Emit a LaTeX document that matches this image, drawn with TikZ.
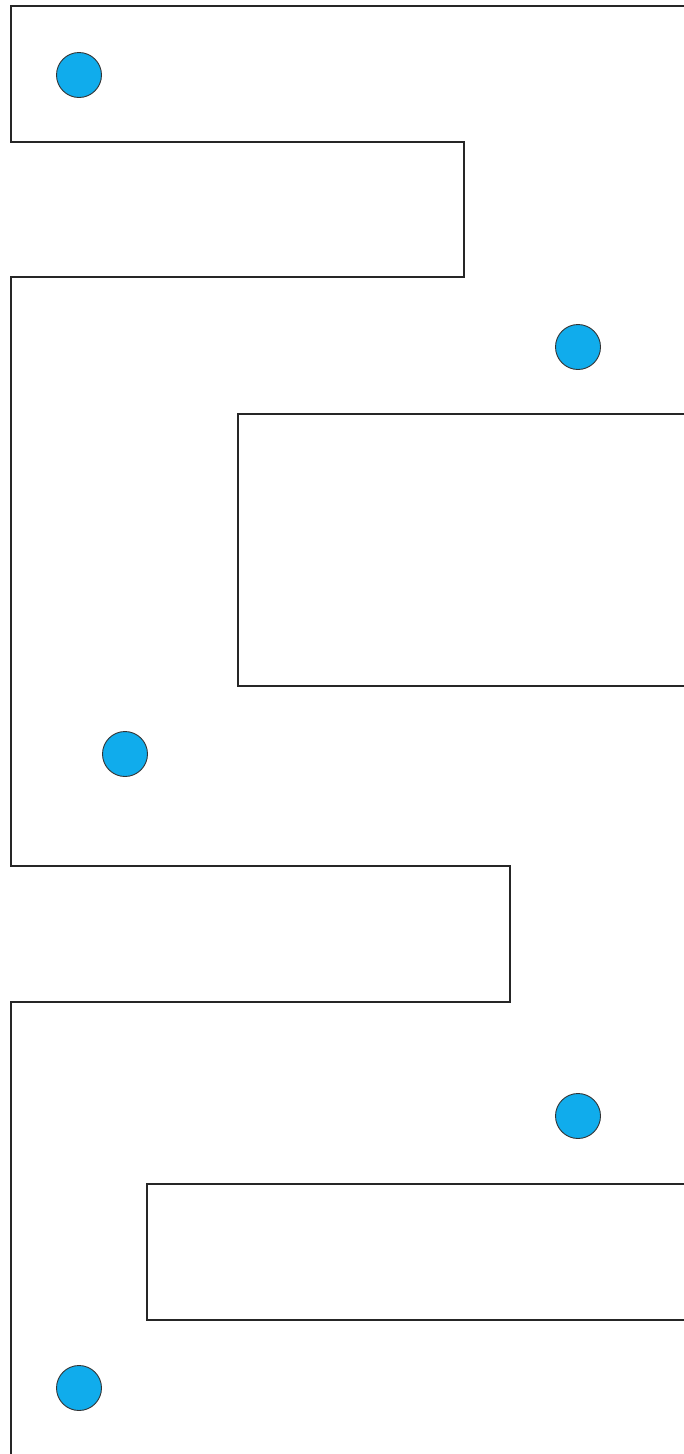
\documentclass[tikz,border=0pt]{standalone}
\definecolor{dotblue}{RGB}{16,172,236}
\tikzset{wall/.style={draw=black!85,line width=1.3pt,line join=miter},
  dot/.style={circle,draw=black!80,line width=0.9pt,fill=dotblue,minimum size=45pt,inner sep=0pt}}
\begin{document}
\begin{tikzpicture}[x=1pt,y=-1pt]
\useasboundingbox[fill=white] (0,0) rectangle (683,1454);
\draw[wall] (684,6) -- (11,6) -- (11,142) -- (464,142) -- (464,277) -- (11,277) -- (11,866) -- (510,866) -- (510,1002) -- (11,1002) -- (11,1456);
\draw[wall] (684,414) -- (238,414) -- (238,686) -- (684,686);
\draw[wall] (684,1184) -- (147,1184) -- (147,1320) -- (684,1320);
\node[dot] (d1) at (79,75) {};
\node[dot] (d2) at (578,347) {};
\node[dot] (d3) at (125,754) {};
\node[dot] (d4) at (578,1116) {};
\node[dot] (d5) at (79,1388) {};
\end{tikzpicture}
\end{document}
